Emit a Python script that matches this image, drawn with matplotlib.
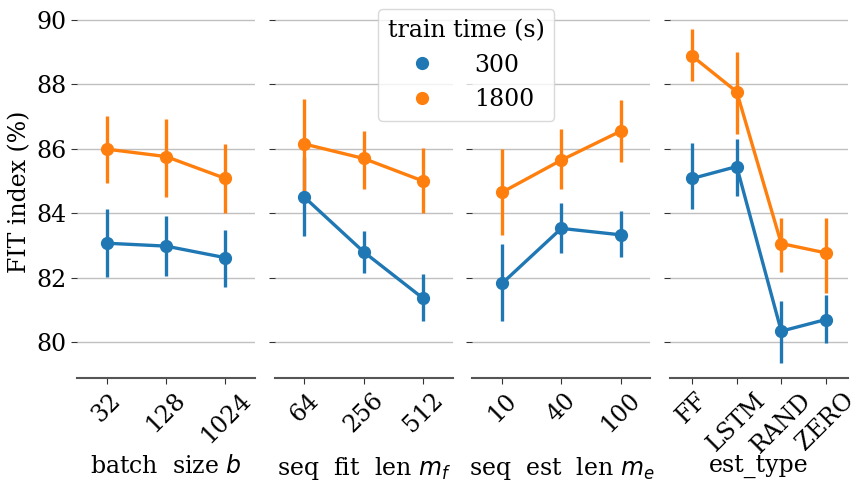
import numpy as np
import matplotlib.pyplot as plt
from matplotlib.lines import Line2D

plt.rcParams['font.family'] = 'DejaVu Serif'
plt.rcParams['font.size'] = 17

# panel setup: x categories and axis labels
panel_labels = ["batch  size $b$", "seq  fit  len $m_f$", "seq  est  len $m_e$", "est_type"]
panel_cats = [["32", "128", "1024"],
              ["64", "256", "512"],
              ["10", "40", "100"],
              ["FF", "LSTM", "RAND", "ZERO"]]

# mean FIT index (%) for train time 300 s
mean_300 = [[83.07, 82.98, 82.62],
            [84.50, 82.80, 81.36],
            [81.82, 83.53, 83.33],
            [85.08, 85.45, 80.34, 80.70]]
lo_300 = [[82.03, 82.06, 81.70],
          [83.28, 82.15, 80.65],
          [80.66, 82.77, 82.65],
          [84.13, 84.54, 79.36, 79.98]]
hi_300 = [[84.12, 83.92, 83.48],
          [85.76, 83.45, 82.12],
          [83.06, 84.33, 84.07],
          [86.17, 86.30, 81.27, 81.46]]

# mean FIT index (%) for train time 1800 s
mean_1800 = [[85.99, 85.76, 85.08],
             [86.15, 85.70, 85.00],
             [84.65, 85.65, 86.55],
             [88.88, 87.77, 83.06, 82.77]]
lo_1800 = [[84.95, 84.49, 84.02],
           [84.60, 84.75, 84.00],
           [83.32, 84.75, 85.58],
           [88.10, 86.45, 82.18, 81.53]]
hi_1800 = [[87.03, 86.93, 86.15],
           [87.54, 86.55, 86.02],
           [85.98, 86.61, 87.52],
           [89.71, 89.00, 83.84, 83.86]]

series = [("300", "#1f77b4", mean_300, lo_300, hi_300),
          ("1800", "#ff7f0e", mean_1800, lo_1800, hi_1800)]

fig, axes = plt.subplots(1, 4, sharey=True, figsize=(8.51, 4.83), dpi=100)
fig.subplots_adjust(left=0.0905, right=0.9965, bottom=0.217, top=0.99, wspace=0.11)

for i, ax in enumerate(axes):
    cats = panel_cats[i]
    x = np.arange(len(cats))
    # error bars first, then lines with markers on top
    for name, col, m, lo, hi in series:
        ax.vlines(x, lo[i], hi[i], color=col, lw=2.4, zorder=2)
    for name, col, m, lo, hi in series:
        ax.plot(x, m[i], color=col, lw=2.4, marker='o', ms=8.5, zorder=3)
    ax.set_xlim(-0.5, len(cats) - 0.5)
    ax.set_xticks(x)
    ax.set_xticklabels(cats, rotation=45)
    ax.set_xlabel(panel_labels[i])
    ax.xaxis.set_label_coords(0.5, -0.205)
    ax.grid(axis='y', color='#c0c0c0', lw=1.0)
    ax.set_axisbelow(True)
    for s in ['top', 'right', 'left']:
        ax.spines[s].set_visible(False)
    ax.spines['bottom'].set_color('#555555')
    ax.spines['bottom'].set_linewidth(1.5)
    ax.tick_params(axis='both', color='#333333', length=4)

axes[0].set_ylim(78.88, 90.47)
axes[0].set_yticks([80, 82, 84, 86, 88, 90])
axes[0].set_ylabel("FIT index (%)")

handles = [Line2D([], [], color=c, marker='o', ls='', ms=8.5) for _, c, *_ in series]
fig.legend(handles, [s[0] for s in series], title="train time (s)",
           loc='upper center', bbox_to_anchor=(0.548, 1.005), fontsize=17,
           title_fontsize=17, framealpha=0.8, edgecolor='#d0d0d0',
           labelspacing=0.5, handletextpad=1.2)

plt.savefig("out.png", dpi=100)
